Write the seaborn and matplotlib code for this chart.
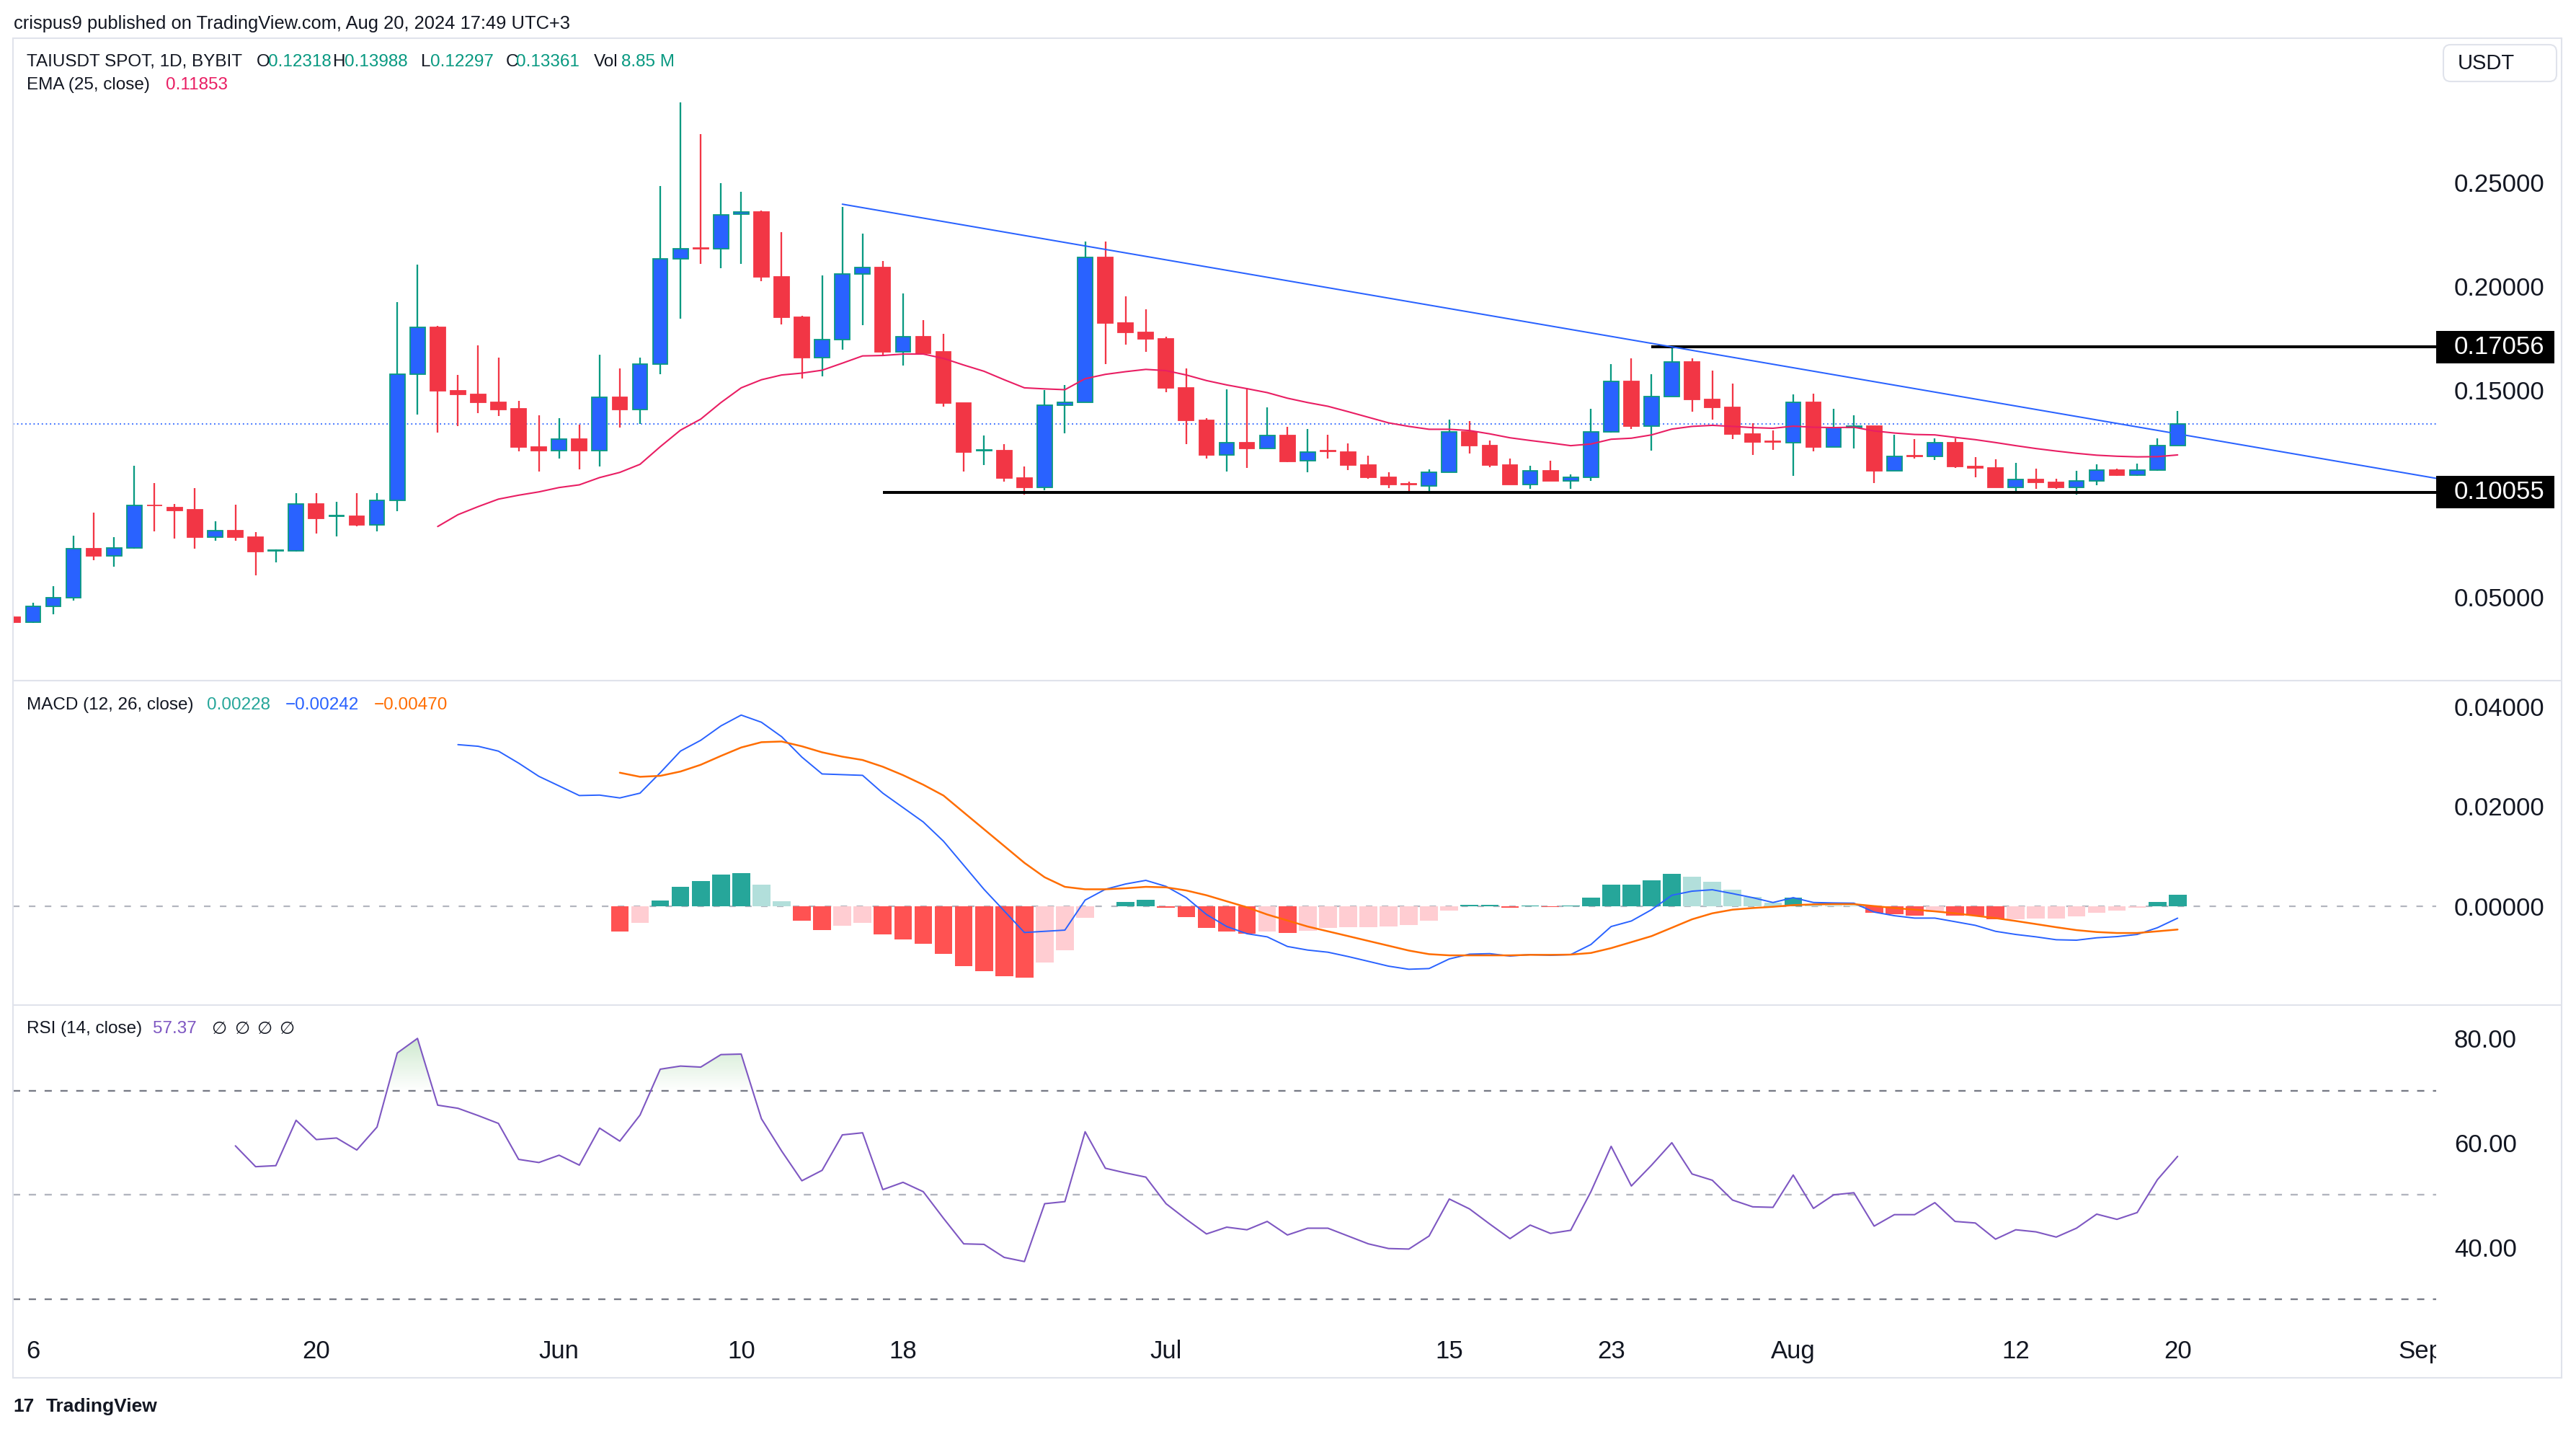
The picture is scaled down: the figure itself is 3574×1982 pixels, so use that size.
import numpy as np
import pandas as pd
import matplotlib
matplotlib.use("Agg")
import matplotlib.pyplot as plt
import matplotlib.dates as mdates
import matplotlib.transforms as mtransforms
from matplotlib.colors import LinearSegmentedColormap
from matplotlib.lines import Line2D
from matplotlib.patches import Rectangle, FancyBboxPatch
from matplotlib.path import Path
import seaborn as sns

W, H = 3574, 1982

# ---- values (TAIUSDT 1D, BYBIT) ----
first_day = "2024-05-05"
opens = [
    0.0404, 0.0379, 0.0454, 0.0495, 0.0734, 0.0697, 0.0738, 0.0943, 0.0933, 0.0920,
    0.0787, 0.0821, 0.0787, 0.0722, 0.0722, 0.0947, 0.0888, 0.0888, 0.0849, 0.0965,
    0.1576, 0.1800, 0.1496, 0.1479, 0.1440, 0.1408, 0.1225, 0.1207, 0.1261, 0.1207,
    0.1465, 0.1406, 0.1624, 0.2131, 0.2184, 0.2181, 0.2346, 0.2356, 0.2044, 0.1848,
    0.1656, 0.1743, 0.2059, 0.2090, 0.1683, 0.1754, 0.1683, 0.1434, 0.1206, 0.1206,
    0.1073, 0.1027, 0.1424, 0.1438, 0.2138, 0.1823, 0.1775, 0.1746, 0.1507, 0.1353,
    0.1186, 0.1246, 0.1218, 0.1278, 0.1158, 0.1206, 0.1200, 0.1138, 0.1076, 0.1046,
    0.1034, 0.1103, 0.1296, 0.1232, 0.1135, 0.1044, 0.1110, 0.1060, 0.1076, 0.1298,
    0.1539, 0.1323, 0.1468, 0.1635, 0.1454, 0.1415, 0.1287, 0.1252, 0.1243, 0.1440,
    0.1225, 0.1316, 0.1326, 0.1110, 0.1183, 0.1177, 0.1243, 0.1128, 0.1122, 0.1027,
    0.1066, 0.1053, 0.1027, 0.1060, 0.1113, 0.1089, 0.1113, 0.12318,
]
highs = [
    0.0412, 0.0472, 0.0551, 0.0796, 0.0906, 0.0789, 0.1133, 0.1050, 0.0950, 0.1025,
    0.0865, 0.0945, 0.0814, 0.0730, 0.1000, 0.1000, 0.0959, 0.1000, 0.1000, 0.1922,
    0.2103, 0.1807, 0.1571, 0.1713, 0.1654, 0.1447, 0.1376, 0.1362, 0.1332, 0.1668,
    0.1601, 0.1654, 0.2484, 0.2885, 0.2734, 0.2495, 0.2454, 0.2365, 0.2259, 0.1855,
    0.2053, 0.2383, 0.2252, 0.2121, 0.1966, 0.1835, 0.1770, 0.1434, 0.1278, 0.1238,
    0.1129, 0.1500, 0.1523, 0.2215, 0.2216, 0.1952, 0.1887, 0.1757, 0.1601, 0.1362,
    0.1502, 0.1509, 0.1415, 0.1321, 0.1310, 0.1282, 0.1241, 0.1181, 0.1101, 0.1057,
    0.1115, 0.1355, 0.1348, 0.1255, 0.1167, 0.1133, 0.1158, 0.1090, 0.1408, 0.1622,
    0.1651, 0.1574, 0.1706, 0.1651, 0.1592, 0.1528, 0.1337, 0.1305, 0.1477, 0.1482,
    0.1408, 0.1376, 0.1326, 0.1282, 0.1261, 0.1264, 0.1264, 0.1174, 0.1165, 0.1147,
    0.1119, 0.1071, 0.1110, 0.1140, 0.1119, 0.1145, 0.1264, 0.13988,
]
lows = [
    0.0372, 0.0374, 0.0415, 0.0481, 0.0676, 0.0645, 0.0732, 0.0816, 0.0780, 0.0734,
    0.0770, 0.0773, 0.0603, 0.0668, 0.0718, 0.0805, 0.0791, 0.0840, 0.0817, 0.0915,
    0.1381, 0.1294, 0.1323, 0.1388, 0.1374, 0.1202, 0.1105, 0.1168, 0.1115, 0.1128,
    0.1319, 0.1335, 0.1576, 0.1842, 0.2108, 0.2087, 0.2108, 0.2025, 0.1814, 0.1555,
    0.1566, 0.1693, 0.1810, 0.1665, 0.1615, 0.1668, 0.1417, 0.1105, 0.1138, 0.1057,
    0.0995, 0.1016, 0.1291, 0.1438, 0.1622, 0.1718, 0.1683, 0.1489, 0.1236, 0.1168,
    0.1106, 0.1124, 0.1218, 0.1151, 0.1103, 0.1167, 0.1113, 0.1071, 0.1025, 0.1004,
    0.1004, 0.1103, 0.1191, 0.1126, 0.1044, 0.1020, 0.1059, 0.1020, 0.1059, 0.1293,
    0.1309, 0.1207, 0.1468, 0.1394, 0.1355, 0.1262, 0.1184, 0.1209, 0.1083, 0.1202,
    0.1225, 0.1216, 0.1048, 0.1110, 0.1168, 0.1160, 0.1122, 0.1076, 0.1027, 0.1002,
    0.1023, 0.1023, 0.0995, 0.1039, 0.1083, 0.1083, 0.1110, 0.12297,
]
closes = [
    0.0379, 0.0454, 0.0495, 0.0734, 0.0697, 0.0738, 0.0940, 0.0940, 0.0918, 0.0787,
    0.0821, 0.0787, 0.0718, 0.0725, 0.0947, 0.0879, 0.0892, 0.0849, 0.0965, 0.1576,
    0.1800, 0.1496, 0.1479, 0.1440, 0.1406, 0.1225, 0.1207, 0.1261, 0.1207, 0.1465,
    0.1406, 0.1624, 0.2131, 0.2181, 0.2181, 0.2344, 0.2356, 0.2044, 0.1848, 0.1656,
    0.1743, 0.2059, 0.2090, 0.1683, 0.1754, 0.1677, 0.1434, 0.1199, 0.1209, 0.1073,
    0.1027, 0.1424, 0.1438, 0.2138, 0.1823, 0.1775, 0.1746, 0.1507, 0.1353, 0.1186,
    0.1246, 0.1218, 0.1278, 0.1154, 0.1200, 0.1202, 0.1138, 0.1076, 0.1041, 0.1041,
    0.1103, 0.1296, 0.1232, 0.1135, 0.1044, 0.1110, 0.1059, 0.1076, 0.1298, 0.1539,
    0.1323, 0.1468, 0.1635, 0.1454, 0.1415, 0.1287, 0.1248, 0.1248, 0.1440, 0.1223,
    0.1316, 0.1326, 0.1110, 0.1179, 0.1177, 0.1243, 0.1128, 0.1122, 0.1027, 0.1066,
    0.1053, 0.1027, 0.1060, 0.1113, 0.1089, 0.1113, 0.1232, 0.13361,
]
last_volume = "8.85 M"

ema_start = "2024-05-26"
ema25 = [
    0.0840, 0.0897, 0.0936, 0.0972, 0.0991, 0.1007, 0.1028, 0.1041, 0.1076, 0.1101,
    0.1140, 0.1225, 0.1305, 0.1358, 0.1438, 0.1509, 0.1548, 0.1571, 0.1580, 0.1594,
    0.1628, 0.1663, 0.1665, 0.1672, 0.1672, 0.1651, 0.1619, 0.1589, 0.1548, 0.1509,
    0.1504, 0.1500, 0.1553, 0.1574, 0.1587, 0.1598, 0.1592, 0.1571, 0.1544, 0.1523,
    0.1505, 0.1486, 0.1459, 0.1438, 0.1420, 0.1394, 0.1367, 0.1340, 0.1323, 0.1309,
    0.1309, 0.1303, 0.1287, 0.1268, 0.1255, 0.1243, 0.1230, 0.1238, 0.1261, 0.1266,
    0.1282, 0.1310, 0.1323, 0.1328, 0.1323, 0.1317, 0.1314, 0.1324, 0.1319, 0.1317,
    0.1319, 0.1301, 0.1291, 0.1284, 0.1282, 0.1270, 0.1259, 0.1245, 0.1230, 0.1216,
    0.1204, 0.1193, 0.1184, 0.1179, 0.1176, 0.1177, 0.11853,
]

macd_start = "2024-05-27"
macd_line = [
    0.03238, 0.03205, 0.03108, 0.02867, 0.02602, 0.02410, 0.02217, 0.02226, 0.02169, 0.02265,
    0.02675, 0.03108, 0.03325, 0.03614, 0.03831, 0.03687, 0.03397, 0.02988, 0.02650, 0.02636,
    0.02622, 0.02265, 0.01976, 0.01687, 0.01301, 0.00819, 0.00337, -0.00096, -0.00530, -0.00506,
    -0.00482, 0.00120, 0.00337, 0.00443, 0.00516, 0.00395, 0.00169, -0.00169, -0.00410, -0.00554,
    -0.00617, -0.00810, -0.00882, -0.00925, -0.01012, -0.01108, -0.01205, -0.01267, -0.01253, -0.01060,
    -0.00964, -0.00954, -0.01002, -0.00973, -0.00988, -0.00973, -0.00771, -0.00410, -0.00299, -0.00072,
    0.00217, 0.00299, 0.00328, 0.00251, 0.00169, 0.00072, 0.00169, 0.00072, 0.00063, 0.00058,
    -0.00120, -0.00193, -0.00241, -0.00241, -0.00313, -0.00386, -0.00506, -0.00569, -0.00617, -0.00675,
    -0.00684, -0.00636, -0.00612, -0.00569, -0.00434, -0.00242,
]
signal_start = "2024-06-04"
signal_line = [
    0.02675, 0.02593, 0.02612, 0.02699, 0.02834, 0.03012, 0.03181, 0.03287, 0.03301, 0.03205,
    0.03084, 0.02997, 0.02930, 0.02795, 0.02626, 0.02434, 0.02217, 0.01879, 0.01542, 0.01205,
    0.00867, 0.00578, 0.00386, 0.00337, 0.00337, 0.00357, 0.00386, 0.00376, 0.00313, 0.00217,
    0.00096, -0.00024, -0.00169, -0.00289, -0.00410, -0.00506, -0.00602, -0.00699, -0.00795, -0.00892,
    -0.00964, -0.00988, -0.00988, -0.00988, -0.00988, -0.00978, -0.00978, -0.00973, -0.00940, -0.00843,
    -0.00723, -0.00602, -0.00434, -0.00265, -0.00145, -0.00072, -0.00039, -0.00014, 0.00019, 0.00034,
    0.00039, 0.00039, 0.00000, -0.00039, -0.00072, -0.00106, -0.00145, -0.00193, -0.00241, -0.00299,
    -0.00361, -0.00424, -0.00482, -0.00520, -0.00540, -0.00540, -0.00506, -0.00470,
]
macd_hist = [
    -0.00506, -0.00337, 0.00111, 0.00386, 0.00501, 0.00631, 0.00660, 0.00429, 0.00096, -0.00289,
    -0.00477, -0.00390, -0.00337, -0.00564, -0.00665, -0.00752, -0.00954, -0.01200, -0.01301, -0.01402,
    -0.01431, -0.01128, -0.00882, -0.00231, -0.00010, 0.00082, 0.00125, -0.00034, -0.00217, -0.00434,
    -0.00506, -0.00554, -0.00506, -0.00540, -0.00492, -0.00434, -0.00424, -0.00420, -0.00410, -0.00376,
    -0.00289, -0.00087, 0.00024, 0.00027, -0.00029, 0.00010, -0.00014, 0.00010, 0.00169, 0.00429,
    0.00432, 0.00516, 0.00646, 0.00588, 0.00487, 0.00328, 0.00183, 0.00072, 0.00164, 0.00024,
    0.00014, 0.00010, -0.00130, -0.00169, -0.00193, -0.00120, -0.00193, -0.00195, -0.00265, -0.00262,
    -0.00251, -0.00248, -0.00207, -0.00130, -0.00087, -0.00029, 0.00082, 0.00228,
]

rsi_start = "2024-05-16"
rsi14 = [
    59.4, 55.4, 55.6, 64.3, 60.6, 60.9, 58.6, 63.0, 77.2, 80.0,
    67.2, 66.6, 65.2, 63.7, 56.8, 56.2, 57.6, 55.7, 62.8, 60.3,
    65.3, 74.1, 74.7, 74.5, 76.9, 77.0, 64.6, 58.4, 52.7, 54.7,
    61.5, 61.9, 51.0, 52.4, 50.6, 45.5, 40.6, 40.5, 38.0, 37.2,
    48.3, 48.7, 62.1, 55.1, 54.2, 53.4, 48.3, 45.3, 42.5, 43.8,
    43.3, 44.9, 42.3, 43.6, 43.6, 42.1, 40.6, 39.7, 39.6, 42.1,
    49.2, 47.3, 44.4, 41.6, 44.2, 42.6, 43.2, 50.6, 59.3, 51.7,
    55.7, 60.0, 54.0, 52.8, 49.0, 47.7, 47.6, 53.8, 47.4, 50.0,
    50.4, 44.0, 46.2, 46.2, 48.5, 44.9, 44.6, 41.5, 43.3, 42.9,
    41.9, 43.6, 46.3, 45.3, 46.6, 52.9, 57.37,
]

support = ("2024-06-17", 0.10055)
resistance = ("2024-07-25", 0.17056)
trend_a = ("2024-06-15", 0.2395)
trend_b = ("2024-08-20", 0.1287)

tick_dates = ["2024-05-06", "2024-05-20", "2024-06-01", "2024-06-10", "2024-06-18", "2024-07-01",
              "2024-07-15", "2024-07-23", "2024-08-01", "2024-08-12", "2024-08-20", "2024-09-01"]
tick_labels = ["6", "20", "Jun", "10", "18", "Jul", "15", "23", "Aug", "12", "20", "Sep"]
price_ticks = [0.05, 0.10, 0.15, 0.20, 0.25]
macd_ticks = [0.0, 0.02, 0.04]
rsi_ticks = [40, 60, 80]

# ---- style ----
sns.set_theme(style="white")
plt.rcParams["font.family"] = ["Liberation Sans", "DejaVu Sans"]
plt.rcParams["lines.scale_dashes"] = False

INK = "#131722"
UP = "#089981"
UP_BODY = "#2962FF"
DOWN = "#F23645"
FRAME = "#E0E3EB"
EMA_C = "#E91E63"
AXIS_FS = 25
LEG_FS = 17.5


def fx(px):
    return px / W


def fy(py):
    return 1 - py / H


def dnum(s):
    return mdates.date2num(pd.Timestamp(s))


def series_x(start, n):
    return mdates.date2num(pd.date_range(start, periods=n, freq="D"))


fig = plt.figure(figsize=(W / 100, H / 100), dpi=100)
fig.patch.set_facecolor("white")

LEFT, RIGHT = 18, 3380


def pane(top, bottom, sharex=None):
    ax = fig.add_axes([fx(LEFT), fy(bottom), fx(RIGHT) - fx(LEFT), fy(top) - fy(bottom)], sharex=sharex)
    ax.set_facecolor("none")
    for s in ax.spines.values():
        s.set_visible(False)
    ax.grid(False)
    ax.tick_params(axis="x", bottom=False, labelbottom=False)
    ax.yaxis.tick_right()
    ax.tick_params(axis="y", length=0, pad=18, labelsize=AXIS_FS, labelcolor=INK)
    return ax


ax_p = pane(53, 944)
ax_m = pane(944, 1394, sharex=ax_p)
ax_r = pane(1394, 1838, sharex=ax_p)
ax_t = pane(1838, 1911, sharex=ax_p)

x_left = dnum("2024-05-06") - 0.994
x_right = dnum("2024-05-06") + 118.78

# ---- candles ----
o = np.array(opens)
h = np.array(highs)
l = np.array(lows)
c = np.array(closes)
xc = series_x(first_day, len(o))
up = c >= o
wick_col = np.where(up, UP, DOWN)
body_face = np.where(up, UP_BODY, DOWN)
body_edge = np.where(up, UP, DOWN)
ax_p.vlines(xc, l, h, colors=wick_col, linewidth=1.65, zorder=2)
ax_p.bar(xc, np.maximum(np.abs(c - o), 0.00015), bottom=np.minimum(o, c), width=0.74,
         color=body_face, edgecolor=body_edge, linewidth=1.3, zorder=3)

sns.lineplot(x=series_x(ema_start, len(ema25)), y=ema25, ax=ax_p, color=EMA_C, linewidth=1.5, zorder=4)

# drawn levels
ax_p.hlines(support[1], dnum(support[0]), x_right, color="black", linewidth=2.9, zorder=5)
ax_p.hlines(resistance[1], dnum(resistance[0]), x_right, color="black", linewidth=2.9, zorder=5)
xa, ya = dnum(trend_a[0]), trend_a[1]
slope = (trend_b[1] - ya) / (dnum(trend_b[0]) - xa)
ax_p.plot([xa, x_right], [ya, ya + slope * (x_right - xa)], color="#2962FF", linewidth=1.45, zorder=5)
ax_p.axhline(c[-1], color="#2962FF", linewidth=1.3, linestyle=(0, (1.3, 2.8)), zorder=1)

ax_p.set_ylim(0.00965, 0.31957)
ax_p.set_yticks(price_ticks, [f"{v:.5f}" for v in price_ticks])

# ---- MACD ----
hist = np.array(macd_hist)
hx = series_x(signal_start, len(hist))
hcols = []
for i, v in enumerate(hist):
    rising = i > 0 and hist[i - 1] < v
    if v >= 0:
        hcols.append("#26A69A" if rising else "#B2DFDB")
    else:
        hcols.append("#FFCDD2" if rising else "#FF5252")
ax_m.axhline(0, color="#B2B5BE", linewidth=1.6, linestyle=(0, (6.5, 9.4)), zorder=1)
ax_m.bar(hx, hist, width=0.88, color=hcols, linewidth=0, zorder=2)
sns.lineplot(x=series_x(macd_start, len(macd_line)), y=macd_line, ax=ax_m, color="#2962FF", linewidth=1.4, zorder=3)
sns.lineplot(x=hx, y=signal_line, ax=ax_m, color="#FF6D00", linewidth=1.8, zorder=3)
ax_m.set_ylim(-0.01985, 0.04522)
ax_m.set_yticks(macd_ticks, [f"{v:.5f}" for v in macd_ticks])

# ---- RSI ----
rv = np.array(rsi14)
rx = series_x(rsi_start, len(rv))
for lvl, col in ((70, "#787B86"), (50, "#B2B5BE"), (30, "#787B86")):
    ax_r.axhline(lvl, color=col, linewidth=1.7, linestyle=(0, (7.2, 8.6)), zorder=1)
fill = ax_r.fill_between(rx, rv, 70, where=rv > 70, interpolate=True, facecolor="none", edgecolor="none")
green = LinearSegmentedColormap.from_list("ob", [(0.30, 0.69, 0.31, 0.0), (0.30, 0.69, 0.31, 0.30)])
img = ax_r.imshow(np.linspace(0, 1, 256).reshape(-1, 1), extent=[rx[0], rx[-1], 70, 81],
                  origin="lower", aspect="auto", cmap=green, interpolation="bilinear", zorder=1)
img.set_clip_path(Path.make_compound_path(*fill.get_paths()), ax_r.transData)
sns.lineplot(x=rx, y=rv, ax=ax_r, color="#7E57C2", linewidth=1.5, zorder=3)
ax_r.set_ylim(25.0, 86.4)
ax_r.set_yticks(rsi_ticks, [f"{v:.2f}" for v in rsi_ticks])

# ---- time axis ----
ax_t.set_yticks([])
blend_t = mtransforms.blended_transform_factory(ax_t.transData, ax_t.transAxes)
for d, lab in zip(tick_dates, tick_labels):
    ax_t.text(dnum(d), 0.5, lab, transform=blend_t, ha="center", va="center",
              fontsize=AXIS_FS, color=INK, clip_on=True)

for ax in (ax_p, ax_m, ax_r, ax_t):
    ax.set_xlabel("")
    ax.set_ylabel("")
    ax.set_aspect("auto")
ax_p.set_xlim(x_left, x_right)

# ---- frame ----
for (x0, y0, x1, y1) in [(18, 53, 3554, 53), (18, 1911, 3554, 1911), (18, 53, 18, 1911),
                         (3554, 53, 3554, 1911), (18, 944, 3554, 944), (18, 1394, 3554, 1394)]:
    fig.add_artist(Line2D([fx(x0), fx(x1)], [fy(y0), fy(y1)], color=FRAME, linewidth=1.5,
                          transform=fig.transFigure))

# price-scale labels for the drawn levels
blend_p = mtransforms.blended_transform_factory(fig.transFigure, ax_p.transData)
half = 22.5 / (891 / (0.31957 - 0.00965))
for lvl in (support[1], resistance[1]):
    fig.add_artist(Rectangle((fx(3380), lvl - half), fx(3544) - fx(3380), 2 * half,
                             transform=blend_p, facecolor="black", edgecolor="none", zorder=5))
    fig.text(fx(3405), lvl, f"{lvl:.5f}", transform=blend_p, color="white", fontsize=AXIS_FS,
             va="center", ha="left", zorder=6)

fig.add_artist(FancyBboxPatch((fx(3390), fy(113)), fx(3547) - fx(3390), fy(62) - fy(113),
                              boxstyle="round,pad=0,rounding_size=0.0028", mutation_aspect=W / H,
                              transform=fig.transFigure, facecolor="white", edgecolor=FRAME,
                              linewidth=1.5, zorder=5))
fig.text(fx(3410), fy(88), "USDT", fontsize=21, color=INK, va="center", ha="left", zorder=6)

# ---- legends ----
fig.text(fx(19), fy(33), "crispus9 published on TradingView.com, Aug 20, 2024 17:49 UTC+3",
         fontsize=18.4, color=INK, va="center")

row1 = [("TAIUSDT SPOT, 1D, BYBIT", 37, INK), ("O", 356, INK), (f"{opens[-1]:.5f}", 372, UP),
        ("H", 462, INK), (f"{highs[-1]:.5f}", 478, UP), ("L", 584, INK), (f"{lows[-1]:.5f}", 597, UP),
        ("C", 702, INK), (f"{closes[-1]:.5f}", 716, UP), ("Vol", 824, INK), (last_volume, 862, UP)]
for txt, px, col in row1:
    fig.text(fx(px), fy(86), txt, fontsize=LEG_FS, color=col, va="center")

fig.text(fx(37), fy(118), "EMA (25, close)", fontsize=LEG_FS, color=INK, va="center")
fig.text(fx(230), fy(118), f"{ema25[-1]:.5f}", fontsize=LEG_FS, color=EMA_C, va="center")


def signed(v):
    return f"{v:.5f}".replace("-", "\u2212")


fig.text(fx(37), fy(978), "MACD (12, 26, close)", fontsize=LEG_FS, color=INK, va="center")
fig.text(fx(287), fy(978), signed(macd_hist[-1]), fontsize=LEG_FS, color="#26A69A", va="center")
fig.text(fx(396), fy(978), signed(macd_line[-1]), fontsize=LEG_FS, color="#2962FF", va="center")
fig.text(fx(519), fy(978), signed(signal_line[-1]), fontsize=LEG_FS, color="#FF6D00", va="center")

fig.text(fx(37), fy(1427), "RSI (14, close)", fontsize=LEG_FS, color=INK, va="center")
fig.text(fx(212), fy(1427), f"{rsi14[-1]:.2f}", fontsize=LEG_FS, color="#7E57C2", va="center")
for px in (293, 325, 356, 387):
    fig.text(fx(px), fy(1427), "\u2205", fontsize=LEG_FS, color=INK, va="center",
             family=["DejaVu Sans"])

# ---- footer logo ----
fig.text(fx(18), fy(1951), "17", fontsize=19, fontweight="bold", color=INK, va="center")
fig.text(fx(64), fy(1951), "TradingView", fontsize=19, fontweight="semibold", color=INK, va="center")

fig.savefig("out.png", dpi=100, facecolor="white")
